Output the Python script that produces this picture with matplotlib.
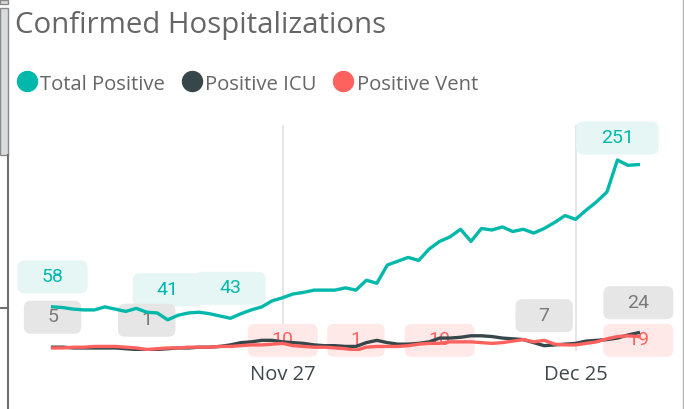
import numpy as np
import pandas as pd
import matplotlib
matplotlib.use("Agg")
import matplotlib.pyplot as plt
import matplotlib.dates as mdates
from matplotlib.patches import FancyBboxPatch, Rectangle
from matplotlib.lines import Line2D
from matplotlib.transforms import Affine2D, ScaledTranslation

dates = pd.date_range("2020-11-05", periods=57)
total_positive = [58, 57, 55, 54, 54, 58, 55, 52, 56, 51, 50, 41, 47, 50, 51, 49, 46, 43, 49, 54,
                  58, 66, 70, 75, 77, 80, 80, 80, 83, 80, 93, 89, 113, 118, 123, 119, 134, 144, 150, 160,
                  144, 161, 159, 163, 157, 160, 155, 161, 169, 178, 173, 185, 196, 209, 251, 244, 245]
positive_icu = [5, 5, 4, 4, 4, 4, 4, 3, 2, 1, 2, 3, 4, 4, 5, 5, 6, 8, 11, 12,
                14, 14, 12, 11, 10, 8, 7, 7, 6, 6, 11, 14, 11, 9, 9, 10, 12, 17, 17, 18,
                20, 20, 19, 17, 16, 15, 11, 7, 8, 9, 10, 13, 14, 15, 17, 21, 24]
positive_vent = [4, 4, 5, 5, 6, 6, 6, 5, 4, 2, 3, 4, 4, 5, 5, 5, 6, 6, 7, 8,
                 8, 9, 10, 7, 6, 5, 5, 4, 3, 1, 5, 6, 6, 6, 7, 9, 10, 10, 12, 12,
                 12, 11, 10, 11, 13, 15, 12, 14, 9, 8, 8, 10, 12, 16, 19, 20, 19]
series_names = ["Total Positive", "Positive ICU", "Positive Vent"]
# which points get a data label
total_labels = [0, 11, 17, 54]
icu_labels = [0, 9, 47, 56]
vent_labels = [22, 29, 37, 56]
tick_dates = ["2020-11-27", "2020-12-25"]

TEAL = "#01B8AA"
DARK = "#374649"
RED = "#FD625E"

W, H = 684, 409
fig = plt.figure(figsize=(W / 100, H / 100), dpi=100)


def fx(p):
    return p / W


def fy(p):
    return 1 - p / H


ax = fig.add_axes([fx(20), fy(351), (670 - 20) / W, (351 - 125) / H])

ax.plot(dates, total_positive, color=TEAL, lw=2.4, zorder=5)
ax.plot(dates, positive_icu, color=DARK, lw=2.4, zorder=5)
ax.plot(dates, positive_vent, color=RED, lw=2.4, zorder=6)

nov27 = mdates.date2num(pd.Timestamp("2020-11-27"))
ax.set_xlim(nov27 - 262.7 / 10.46, nov27 + 387.3 / 10.46)
ax.set_ylim(0, 297)

for s in ax.spines.values():
    s.set_visible(False)
ax.set_yticks([])
ax.set_xticks([pd.Timestamp(d) for d in tick_dates])
ax.xaxis.set_major_formatter(mdates.DateFormatter("%b %d"))
ax.tick_params(axis="x", length=0, pad=10, labelsize=14.5, labelcolor="#3d474c")
for t in ax.get_xticklabels():
    t.set_fontfamily("Open Sans")
ax.grid(axis="x", color="#e6e6e6", lw=1.4, zorder=0)


def label(i, values, fc, tc, dy, fixed_y=None):
    x = mdates.date2num(dates[i])
    y = values[i] if fixed_y is None else fixed_y
    txt = str(values[i])
    w = 45 + 12.5 * len(txt)
    h = 33
    trans = Affine2D() + ScaledTranslation(x, y, ax.transData)
    box = FancyBboxPatch((-w / 2, dy - h / 2), w, h,
                         boxstyle="round,pad=0,rounding_size=7",
                         fc=fc, ec="none", transform=trans, clip_on=False, zorder=2)
    ax.add_artist(box)
    ax.annotate(txt, (x, y), xytext=(0, dy), textcoords="offset pixels",
                ha="center", va="center", fontsize=14, color=tc,
                fontfamily="Roboto", zorder=3, annotation_clip=False)


for i in total_labels:
    label(i, total_positive, "#e6f6f5", TEAL, 22 if total_positive[i] > 200 else 30)
for i in icu_labels:
    label(i, positive_icu, "#e6e6e6", "#7a7a7a", 30)
for i in vent_labels:
    label(i, positive_vent, "#ffe9e8", RED, 0, fixed_y=14)

# title and legend
fig.text(fx(15), fy(33), "Confirmed Hospitalizations", fontsize=21.2,
         color="#666666", fontfamily="Open Sans", va="baseline")
leg_x = [27, 191.5, 343]
for cx, name, c in zip(leg_x, series_names, [TEAL, DARK, RED]):
    fig.add_artist(Line2D([fx(cx)], [fy(81)], marker="o", ms=14.4, color=c, mec=c, ls="none"))
    fig.text(fx(cx + 13.5), fy(90), name, fontsize=14.6, color="#666666",
             fontfamily="Open Sans", va="baseline")

# frame bits on the left and right edges
fig.add_artist(Rectangle((0, fy(155)), fx(8), (155 - 8) / H, transform=fig.transFigure,
                         fc="#d8dcdc", ec="#8a8a8a", lw=1))
fig.add_artist(Rectangle((0, fy(4)), fx(8), 4 / H, transform=fig.transFigure,
                         fc="#d8dcdc", ec="#8a8a8a", lw=1))
fig.add_artist(Line2D([fx(8), fx(8)], [fy(155), 0], color="#707070", lw=1.5))
fig.add_artist(Line2D([0, fx(8)], [fy(308), fy(308)], color="#707070", lw=1.5))
fig.add_artist(Line2D([fx(683.3), fx(683.3)], [0, 1], color="#b4b4b4", lw=1))

fig.savefig("out.png", dpi=100)
